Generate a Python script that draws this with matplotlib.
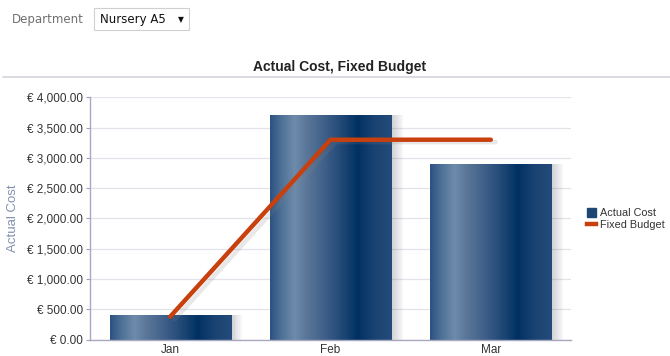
import numpy as np
import matplotlib
matplotlib.use("Agg")
import matplotlib.pyplot as plt
from matplotlib.colors import LinearSegmentedColormap
from matplotlib.patches import Rectangle, Patch
from matplotlib.lines import Line2D
from matplotlib.ticker import FuncFormatter

months = ["Jan", "Feb", "Mar"]
actual_cost = [400, 3700, 2900]
fixed_budget = [380, 3300, 3300]
y_ticks = [0, 500, 1000, 1500, 2000, 2500, 3000, 3500, 4000]
department = "Nursery A5"

plt.rcParams['font.family'] = ['Liberation Sans', 'DejaVu Sans']

fig = plt.figure(figsize=(6.7, 3.56), dpi=100)
ax = fig.add_axes([90 / 670, 1 - 339.7 / 356, 481 / 670, 242.4 / 356])

# vertical stripe shading used for each bar
bar_cmap = LinearSegmentedColormap.from_list("bar_stripes", [
    (0.00, "#2c5282"), (0.08, "#4a6d94"), (0.20, "#6e8bab"),
    (0.30, "#5a7799"), (0.45, "#3e5f88"), (0.60, "#1e4675"),
    (0.72, "#003163"), (0.86, "#1a4373"), (1.00, "#234c7a")])
stripe = np.linspace(0, 1, 256).reshape(1, -1)

x = np.arange(len(months))
width = 0.755

# soft drop shadow to the right of the bars
for k in range(6):
    off = 0.012 * (k + 1)
    ax.bar(x + off, actual_cost, width=width, color="#606070",
           alpha=0.05, zorder=1, linewidth=0)

bars = ax.bar(x, actual_cost, width=width, color="none", zorder=2, linewidth=0)
for rect in bars:
    x0, w, h = rect.get_x(), rect.get_width(), rect.get_height()
    im = ax.imshow(stripe, cmap=bar_cmap, aspect="auto",
                   extent=[x0, x0 + w, 0, h], zorder=2, interpolation="bilinear")
    im.set_clip_path(rect)

# budget line with faint shadow underneath
ax.plot(x + 0.03, np.array(fixed_budget) - 40, color="#808080", lw=3.2,
        alpha=0.18, zorder=3, solid_capstyle="round")
ax.plot(x, fixed_budget, color="#c8400e", lw=3.2, zorder=4,
        solid_capstyle="round", solid_joinstyle="round")

ax.set_xlim(-0.5, 2.5)
ax.set_ylim(0, 4000)
ax.set_yticks(y_ticks)
ax.yaxis.set_major_formatter(FuncFormatter(lambda v, p: f"€ {v:,.2f}"))
ax.set_xticks(x)
ax.set_xticklabels(months)
ax.tick_params(axis="y", length=3, color="#a0a0b8", labelsize=8.5,
               labelcolor="#333333", pad=2)
ax.tick_params(axis="x", length=0, labelsize=8.5, labelcolor="#333333", pad=3)
ax.grid(axis="y", color="#e2e2ea", lw=0.9, zorder=0)
ax.set_axisbelow(True)
for side in ["top", "right"]:
    ax.spines[side].set_visible(False)
for side in ["left", "bottom"]:
    ax.spines[side].set_color("#a8a8c0")
    ax.spines[side].set_linewidth(1.0)
ax.set_ylabel("Actual Cost", color="#8090b0", fontsize=9.5, labelpad=6)

# header widgets and title
fig.text(12 / 670, 1 - 19 / 356, "Department", color="#707070", fontsize=8.5,
         va="center", family=["DejaVu Sans"])
fig.patches.append(Rectangle((94 / 670, 1 - 30 / 356), 95 / 670, 22 / 356,
                             transform=fig.transFigure, facecolor="white",
                             edgecolor="#d0d0d0", lw=0.8))
fig.text(100 / 670, 1 - 19.5 / 356, department, color="#111111", fontsize=8.5,
         va="center", family=["DejaVu Sans"])
fig.text(181 / 670, 1 - 19.5 / 356, "▼", color="#111111", fontsize=5.5,
         va="center", ha="center", family=["DejaVu Sans"])
fig.add_artist(Line2D([3 / 670, 1], [1 - 77 / 356] * 2, color="#d4d4dc", lw=1.2))
fig.text(340 / 670, 1 - 67 / 356, "Actual Cost, Fixed Budget", fontsize=10,
         fontweight="bold", ha="center", va="center", color="#222222")

handles = [Patch(facecolor="#1e4675", edgecolor="#1e4675"),
           Line2D([], [], color="#c8400e", lw=3.2)]
fig.legend(handles, ["Actual Cost", "Fixed Budget"], loc="center left",
           bbox_to_anchor=(582 / 670, 1 - 219 / 356), frameon=False,
           fontsize=7.8, handlelength=0.8, handleheight=0.8, handletextpad=0.35,
           labelspacing=0.15, borderpad=0, labelcolor="#333333")

fig.savefig("out.png", dpi=100)
